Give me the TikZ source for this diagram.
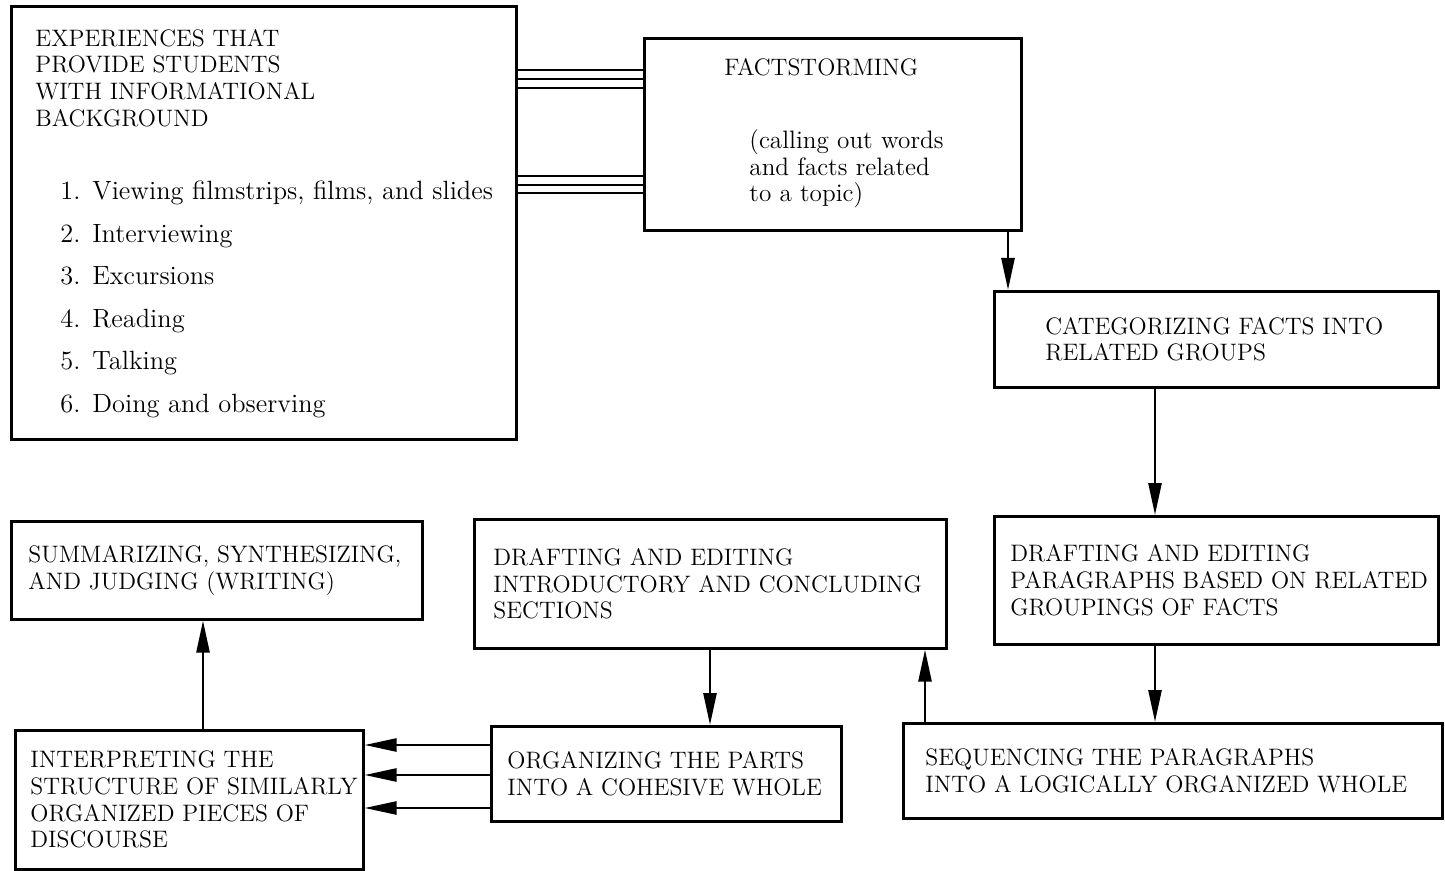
\documentclass[tikz,border=0pt]{standalone}
\usepackage{fontspec}
\usetikzlibrary{positioning,arrows.meta}

\tikzset{
  box/.style={draw, line width=1.3pt, inner sep=0pt, anchor=north west},
  txt/.style={align=left, inner sep=0pt, font=\fontsize{11.9}{13.35}\selectfont},
  lc/.style={txt, font=\fontsize{12.6}{13.3}\selectfont},
  listtxt/.style={txt, anchor=base west, font=\fontsize{13.2}{14}\selectfont},
  flow/.style={line width=1.3pt, -{Triangle[length=16pt,width=6.5pt]}},
  link/.style={line width=1.2pt}
}

\begin{document}
\begin{tikzpicture}[x=0.5pt,y=-0.5pt]
  \useasboundingbox (0,0) rectangle (1445,871);

  % boxes
  \node[box, minimum width=252.5pt, minimum height=216.5pt] (exp) at (10,5) {};
  \node[box, minimum width=188.5pt, minimum height=96pt] (fact) at (643,37) {};
  \node[box, minimum width=222pt, minimum height=48pt] (cat) at (993,290) {};
  \node[box, minimum width=222pt, minimum height=64pt] (para) at (993,515) {};
  \node[box, minimum width=269.5pt, minimum height=47.5pt] (seq) at (902,722) {};
  \node[box, minimum width=236pt, minimum height=64.5pt] (intro) at (473,518) {};
  \node[box, minimum width=175pt, minimum height=47.5pt] (org) at (490,725) {};
  \node[box, minimum width=174pt, minimum height=69.5pt] (interp) at (14,729) {};
  \node[box, minimum width=205.5pt, minimum height=49pt] (summ) at (10,520) {};

  % texts
  \node[txt, anchor=west] (exptitle) at (35,78)
    {EXPERIENCES THAT\\PROVIDE STUDENTS\\WITH INFORMATIONAL\\BACKGROUND};
  \foreach \n/\t [count=\i from 0] in {1/{Viewing filmstrips, films, and slides},
      2/Interviewing, 3/Excursions, 4/Reading, 5/Talking, 6/Doing and observing}{
    \node[listtxt] (num\n) at (60,{200+42.5*\i}) {\n.};
    \node[listtxt] (item\n) at (92,{200+42.5*\i}) {\t};
  }
  \node[txt, anchor=west] (facttitle) at (724,67) {FACTSTORMING};
  \node[lc, anchor=west] (factnote) at (749,169)
    {(calling out words\\and facts related\\to a topic)};
  \node[txt, right=26pt of cat.west] (cattext)
    {CATEGORIZING FACTS INTO\\RELATED GROUPS};
  \node[txt, right=8.5pt of para.west] (paratext)
    {DRAFTING AND EDITING\\PARAGRAPHS BASED ON RELATED\\GROUPINGS OF FACTS};
  \node[txt, right=11.5pt of seq.west] (seqtext)
    {SEQUENCING THE PARAGRAPHS\\INTO A LOGICALLY ORGANIZED WHOLE};
  \node[txt, right=10pt of intro.west] (introtext)
    {DRAFTING AND EDITING\\INTRODUCTORY AND CONCLUDING\\SECTIONS};
  \node[txt, right=8.5pt of org.west] (orgtext)
    {ORGANIZING THE PARTS\\INTO A COHESIVE WHOLE};
  \node[txt, right=8pt of interp.west] (interptext)
    {INTERPRETING THE\\STRUCTURE OF SIMILARLY\\ORGANIZED PIECES OF\\DISCOURSE};
  \node[txt, right=9pt of summ.west] (summtext)
    {SUMMARIZING, SYNTHESIZING,\\AND JUDGING (WRITING)};

  % connectors
  \foreach \y in {70,79,88,176,185,193}
    \draw[link] (exp.east |- 0,\y) -- (fact.west |- 0,\y);
  \draw[flow] (fact.south -| 1008,0) -- (cat.north -| 1008,0);
  \draw[flow] (cat.south -| 1155,0) -- (para.north -| 1155,0);
  \draw[flow] (para.south -| 1155,0) -- (seq.north -| 1155,0);
  \draw[flow] (seq.north -| 925,0) -- (intro.south -| 925,0);
  \draw[flow] (intro.south -| 710,0) -- (org.north -| 710,0);
  \foreach \y in {745,775,808}
    \draw[flow] (org.west |- 0,\y) -- (interp.east |- 0,\y);
  \draw[flow] (interp.north -| 203,0) -- (summ.south -| 203,0);
\end{tikzpicture}
\end{document}
